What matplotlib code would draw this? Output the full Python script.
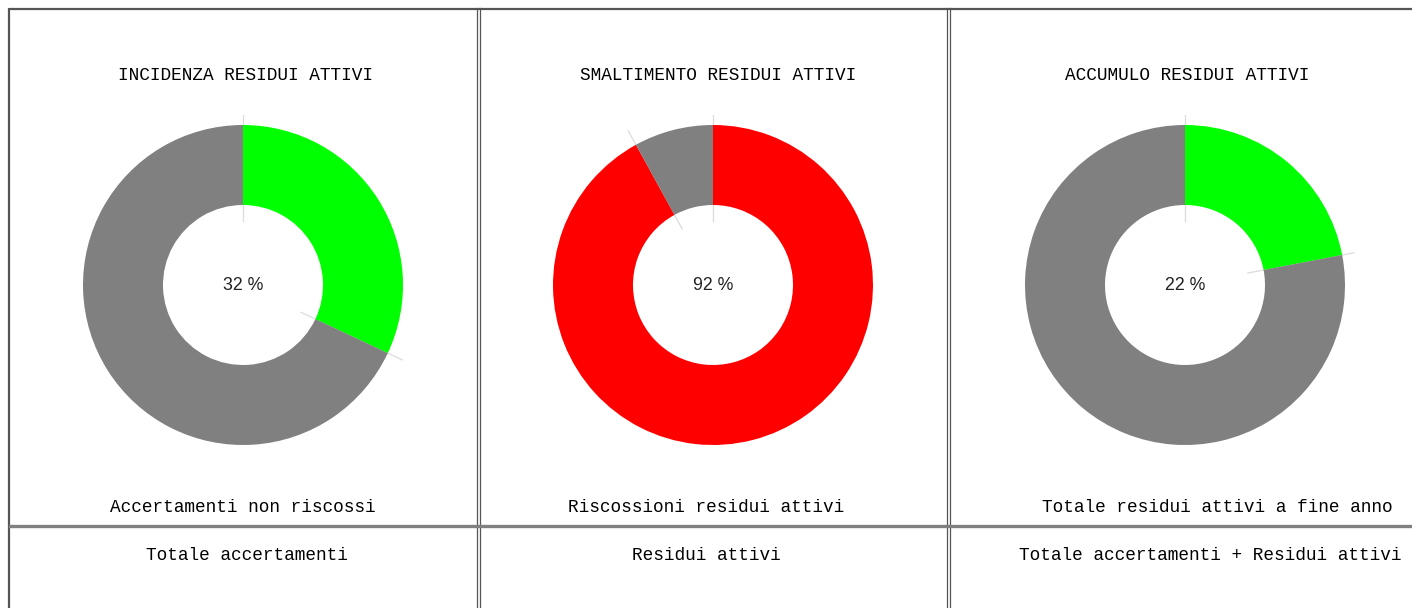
import matplotlib
matplotlib.use("Agg")
import matplotlib.pyplot as plt
import numpy as np

W, H = 1412, 608

titles = ["INCIDENZA RESIDUI ATTIVI", "SMALTIMENTO RESIDUI ATTIVI", "ACCUMULO RESIDUI ATTIVI"]
numerators = ["Accertamenti non riscossi", "Riscossioni residui attivi", "Totale residui attivi a fine anno"]
denominators = ["Totale accertamenti", "Residui attivi", "Totale accertamenti + Residui attivi"]
percents = [32, 92, 22]
slice_colors = [["#00ff00", "#808080"], ["#ff0000", "#808080"], ["#00ff00", "#808080"]]

# layout (pixels)
centers_x = [243, 713, 1185]
center_y = 285
radius_px = 160
title_x = [245, 718, 1187]
num_x = [243, 706, 1217]
den_x = [247, 706, 1210]

fig = plt.figure(figsize=(W / 100, H / 100), dpi=100)
bg = fig.add_axes([0, 0, 1, 1])
bg.set_xlim(0, W)
bg.set_ylim(H, 0)
bg.axis("off")

# table borders
dark = "#555555"
bg.plot([9, W], [8.5, 8.5], color=dark, lw=1.6, solid_capstyle="butt")
bg.plot([9, 9], [8, H], color=dark, lw=1.6, solid_capstyle="butt")
for x in (477, 479.5, 947, 949.5):
    bg.plot([x, x], [8, H], color=dark, lw=0.9)
bg.plot([10, W], [525.5, 525.5], color="#808080", lw=2.4)

mono = "Liberation Mono"
for i in range(3):
    bg.text(title_x[i], 75, titles[i], ha="center", va="center", fontsize=12.8, family=mono, color="black")
    bg.text(num_x[i], 508, numerators[i], ha="center", va="center", fontsize=12.8, family=mono, color="black")
    bg.text(den_x[i], 556, denominators[i], ha="center", va="center", fontsize=12.8, family=mono, color="black")

    half = 170
    ax = fig.add_axes([(centers_x[i] - half) / W, (H - center_y - half) / H, 2 * half / W, 2 * half / H])
    lim = half / radius_px
    p = percents[i]
    wedges, _ = ax.pie([p, 100 - p], colors=slice_colors[i], startangle=90, counterclock=False,
                       radius=1, wedgeprops=dict(width=0.5, linewidth=0))
    for w in wedges:
        w.set_zorder(2)
    # faint separator ticks at slice boundaries
    for frac in (0, p / 100):
        ang = np.pi / 2 - 2 * np.pi * frac
        ax.plot([0.4 * np.cos(ang), 1.1 * np.cos(ang)], [0.4 * np.sin(ang), 1.1 * np.sin(ang)],
                color="#dcdcdc", lw=0.9, zorder=1)
    ax.text(0, 0, f"{p} %", ha="center", va="center", fontsize=12.8, family="Liberation Sans", color="#222222")
    ax.set_xlim(-lim, lim)
    ax.set_ylim(-lim, lim)
    ax.set_aspect("equal")
    ax.axis("off")

fig.savefig("out.png", dpi=100)
